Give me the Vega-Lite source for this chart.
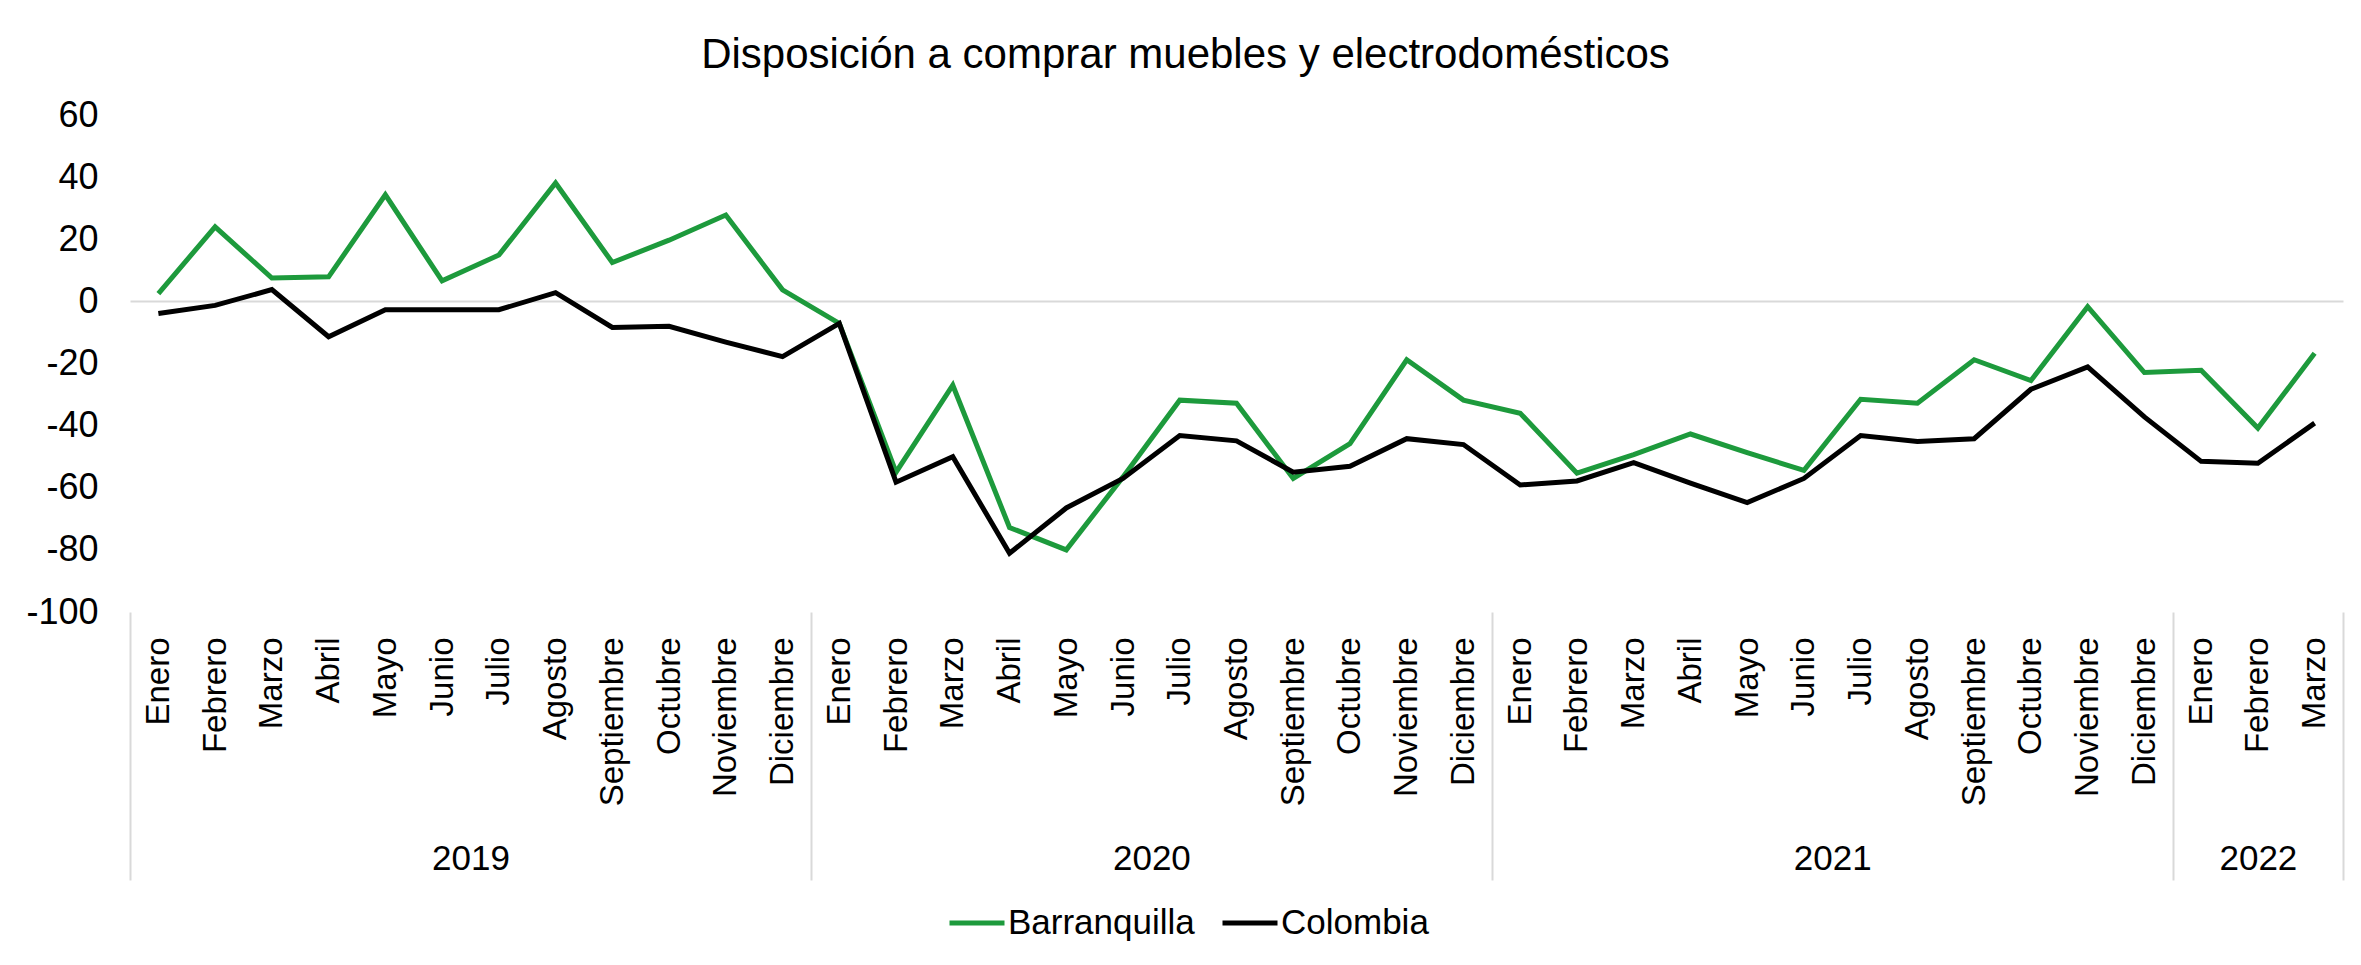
{
  "$schema": "https://vega.github.io/schema/vega-lite/v6.json",
  "width": 2213,
  "height": 497,
  "autosize": {"type": "none"},
  "padding": {"left": 130, "top": 115, "right": 18, "bottom": 353},
  "background": "white",
  "config": {
    "view": {"stroke": null},
    "font": "Liberation Sans",
    "axis": {"labelColor": "#000000", "labelFont": "Liberation Sans"},
    "legend": {"labelColor": "#000000", "labelFont": "Liberation Sans"}
  },
  "title": {
    "text": "Disposición a comprar muebles y electrodomésticos",
    "font": "Liberation Sans",
    "fontSize": 42,
    "fontWeight": "normal",
    "color": "#000000",
    "anchor": "middle",
    "frame": "group",
    "dx": -51,
    "offset": 20
  },
  "data": {
    "values": [
      {"n": 0, "anio": 2019, "mes": "Enero", "serie": "Barranquilla", "valor": 2.5},
      {"n": 1, "anio": 2019, "mes": "Febrero", "serie": "Barranquilla", "valor": 24.0},
      {"n": 2, "anio": 2019, "mes": "Marzo", "serie": "Barranquilla", "valor": 7.5},
      {"n": 3, "anio": 2019, "mes": "Abril", "serie": "Barranquilla", "valor": 7.9},
      {"n": 4, "anio": 2019, "mes": "Mayo", "serie": "Barranquilla", "valor": 34.3},
      {"n": 5, "anio": 2019, "mes": "Junio", "serie": "Barranquilla", "valor": 6.6},
      {"n": 6, "anio": 2019, "mes": "Julio", "serie": "Barranquilla", "valor": 14.9},
      {"n": 7, "anio": 2019, "mes": "Agosto", "serie": "Barranquilla", "valor": 38.1},
      {"n": 8, "anio": 2019, "mes": "Septiembre", "serie": "Barranquilla", "valor": 12.5},
      {"n": 9, "anio": 2019, "mes": "Octubre", "serie": "Barranquilla", "valor": 19.7},
      {"n": 10, "anio": 2019, "mes": "Noviembre", "serie": "Barranquilla", "valor": 27.8},
      {"n": 11, "anio": 2019, "mes": "Diciembre", "serie": "Barranquilla", "valor": 3.7},
      {"n": 12, "anio": 2020, "mes": "Enero", "serie": "Barranquilla", "valor": -7.1},
      {"n": 13, "anio": 2020, "mes": "Febrero", "serie": "Barranquilla", "valor": -55.0},
      {"n": 14, "anio": 2020, "mes": "Marzo", "serie": "Barranquilla", "valor": -27.0},
      {"n": 15, "anio": 2020, "mes": "Abril", "serie": "Barranquilla", "valor": -72.8},
      {"n": 16, "anio": 2020, "mes": "Mayo", "serie": "Barranquilla", "valor": -80.0},
      {"n": 17, "anio": 2020, "mes": "Junio", "serie": "Barranquilla", "valor": -56.5},
      {"n": 18, "anio": 2020, "mes": "Julio", "serie": "Barranquilla", "valor": -31.8},
      {"n": 19, "anio": 2020, "mes": "Agosto", "serie": "Barranquilla", "valor": -32.8},
      {"n": 20, "anio": 2020, "mes": "Septiembre", "serie": "Barranquilla", "valor": -57.0},
      {"n": 21, "anio": 2020, "mes": "Octubre", "serie": "Barranquilla", "valor": -45.8},
      {"n": 22, "anio": 2020, "mes": "Noviembre", "serie": "Barranquilla", "valor": -18.8},
      {"n": 23, "anio": 2020, "mes": "Diciembre", "serie": "Barranquilla", "valor": -31.8},
      {"n": 24, "anio": 2021, "mes": "Enero", "serie": "Barranquilla", "valor": -36.0},
      {"n": 25, "anio": 2021, "mes": "Febrero", "serie": "Barranquilla", "valor": -55.3},
      {"n": 26, "anio": 2021, "mes": "Marzo", "serie": "Barranquilla", "valor": -49.3},
      {"n": 27, "anio": 2021, "mes": "Abril", "serie": "Barranquilla", "valor": -42.7},
      {"n": 28, "anio": 2021, "mes": "Mayo", "serie": "Barranquilla", "valor": -48.7},
      {"n": 29, "anio": 2021, "mes": "Junio", "serie": "Barranquilla", "valor": -54.4},
      {"n": 30, "anio": 2021, "mes": "Julio", "serie": "Barranquilla", "valor": -31.5},
      {"n": 31, "anio": 2021, "mes": "Agosto", "serie": "Barranquilla", "valor": -32.8},
      {"n": 32, "anio": 2021, "mes": "Septiembre", "serie": "Barranquilla", "valor": -18.8},
      {"n": 33, "anio": 2021, "mes": "Octubre", "serie": "Barranquilla", "valor": -25.5},
      {"n": 34, "anio": 2021, "mes": "Noviembre", "serie": "Barranquilla", "valor": -1.7},
      {"n": 35, "anio": 2021, "mes": "Diciembre", "serie": "Barranquilla", "valor": -22.9},
      {"n": 36, "anio": 2022, "mes": "Enero", "serie": "Barranquilla", "valor": -22.2},
      {"n": 37, "anio": 2022, "mes": "Febrero", "serie": "Barranquilla", "valor": -40.8},
      {"n": 38, "anio": 2022, "mes": "Marzo", "serie": "Barranquilla", "valor": -16.7},
      {"n": 0, "anio": 2019, "mes": "Enero", "serie": "Colombia", "valor": -3.9},
      {"n": 1, "anio": 2019, "mes": "Febrero", "serie": "Colombia", "valor": -1.3},
      {"n": 2, "anio": 2019, "mes": "Marzo", "serie": "Colombia", "valor": 3.8},
      {"n": 3, "anio": 2019, "mes": "Abril", "serie": "Colombia", "valor": -11.4},
      {"n": 4, "anio": 2019, "mes": "Mayo", "serie": "Colombia", "valor": -2.7},
      {"n": 5, "anio": 2019, "mes": "Junio", "serie": "Colombia", "valor": -2.7},
      {"n": 6, "anio": 2019, "mes": "Julio", "serie": "Colombia", "valor": -2.7},
      {"n": 7, "anio": 2019, "mes": "Agosto", "serie": "Colombia", "valor": 2.8},
      {"n": 8, "anio": 2019, "mes": "Septiembre", "serie": "Colombia", "valor": -8.4},
      {"n": 9, "anio": 2019, "mes": "Octubre", "serie": "Colombia", "valor": -8.0},
      {"n": 10, "anio": 2019, "mes": "Noviembre", "serie": "Colombia", "valor": -13.1},
      {"n": 11, "anio": 2019, "mes": "Diciembre", "serie": "Colombia", "valor": -17.8},
      {"n": 12, "anio": 2020, "mes": "Enero", "serie": "Colombia", "valor": -7.1},
      {"n": 13, "anio": 2020, "mes": "Febrero", "serie": "Colombia", "valor": -58.2},
      {"n": 14, "anio": 2020, "mes": "Marzo", "serie": "Colombia", "valor": -50.0},
      {"n": 15, "anio": 2020, "mes": "Abril", "serie": "Colombia", "valor": -81.1},
      {"n": 16, "anio": 2020, "mes": "Mayo", "serie": "Colombia", "valor": -66.5},
      {"n": 17, "anio": 2020, "mes": "Junio", "serie": "Colombia", "valor": -57.0},
      {"n": 18, "anio": 2020, "mes": "Julio", "serie": "Colombia", "valor": -43.2},
      {"n": 19, "anio": 2020, "mes": "Agosto", "serie": "Colombia", "valor": -44.9},
      {"n": 20, "anio": 2020, "mes": "Septiembre", "serie": "Colombia", "valor": -55.0},
      {"n": 21, "anio": 2020, "mes": "Octubre", "serie": "Colombia", "valor": -53.1},
      {"n": 22, "anio": 2020, "mes": "Noviembre", "serie": "Colombia", "valor": -44.2},
      {"n": 23, "anio": 2020, "mes": "Diciembre", "serie": "Colombia", "valor": -46.1},
      {"n": 24, "anio": 2021, "mes": "Enero", "serie": "Colombia", "valor": -59.1},
      {"n": 25, "anio": 2021, "mes": "Febrero", "serie": "Colombia", "valor": -57.8},
      {"n": 26, "anio": 2021, "mes": "Marzo", "serie": "Colombia", "valor": -51.9},
      {"n": 27, "anio": 2021, "mes": "Abril", "serie": "Colombia", "valor": -58.5},
      {"n": 28, "anio": 2021, "mes": "Mayo", "serie": "Colombia", "valor": -64.8},
      {"n": 29, "anio": 2021, "mes": "Junio", "serie": "Colombia", "valor": -57.0},
      {"n": 30, "anio": 2021, "mes": "Julio", "serie": "Colombia", "valor": -43.2},
      {"n": 31, "anio": 2021, "mes": "Agosto", "serie": "Colombia", "valor": -45.1},
      {"n": 32, "anio": 2021, "mes": "Septiembre", "serie": "Colombia", "valor": -44.2},
      {"n": 33, "anio": 2021, "mes": "Octubre", "serie": "Colombia", "valor": -28.3},
      {"n": 34, "anio": 2021, "mes": "Noviembre", "serie": "Colombia", "valor": -21.1},
      {"n": 35, "anio": 2021, "mes": "Diciembre", "serie": "Colombia", "valor": -37.2},
      {"n": 36, "anio": 2022, "mes": "Enero", "serie": "Colombia", "valor": -51.5},
      {"n": 37, "anio": 2022, "mes": "Febrero", "serie": "Colombia", "valor": -52.1},
      {"n": 38, "anio": 2022, "mes": "Marzo", "serie": "Colombia", "valor": -39.2}
    ]
  },
  "encoding": {
    "y": {
      "field": "valor",
      "type": "quantitative",
      "scale": {"domain": [-100, 60], "nice": false, "zero": false},
      "axis": {
        "title": null,
        "values": [-100, -80, -60, -40, -20, 0, 20, 40, 60],
        "labelExpr": "'' + datum.value",
        "domain": false,
        "ticks": false,
        "labelFontSize": 36,
        "labelPadding": 32,
        "labelBaseline": "middle",
        "grid": true,
        "gridColor": "#d9d9d9",
        "gridWidth": 2,
        "gridOpacity": {"condition": {"test": "datum.value === 0", "value": 1}, "value": 0}
      }
    },
    "color": {
      "field": "serie",
      "type": "nominal",
      "scale": {"domain": ["Barranquilla", "Colombia"], "range": ["#1d9a3c", "#000000"]},
      "legend": {
        "title": null,
        "orient": "none",
        "direction": "horizontal",
        "legendX": 817,
        "legendY": 778,
        "padding": 0,
        "symbolType": "stroke",
        "symbolSize": 3025,
        "symbolStrokeWidth": 5,
        "labelFontSize": 35,
        "labelLimit": 0,
        "labelOffset": 1,
        "columnPadding": 17
      }
    }
  },
  "layer": [
    {
      "transform": [{"filter": "datum.serie == 'Barranquilla'"}],
      "mark": {"type": "line", "strokeWidth": 5},
      "encoding": {
        "x": {
          "field": "n",
          "type": "quantitative",
          "scale": {"domain": [-0.5, 38.5], "nice": false, "zero": false},
          "axis": {
            "orient": "bottom",
            "title": null,
            "values": [0,1,2,3,4,5,6,7,8,9,10,11,12,13,14,15,16,17,18,19,20,21,22,23,24,25,26,27,28,29,30,31,32,33,34,35,36,37,38],
            "labelExpr": "['Enero','Febrero','Marzo','Abril','Mayo','Junio','Julio','Agosto','Septiembre','Octubre','Noviembre','Diciembre'][datum.value % 12]",
            "labelAngle": -90,
            "labelAlign": "right",
            "labelBaseline": "middle",
            "labelFontSize": 33,
            "labelPadding": 25,
            "labelOverlap": false,
            "labelFlush": false,
            "labelBound": false,
            "ticks": false,
            "domain": false,
            "grid": false
          }
        }
      }
    },
    {
      "transform": [{"filter": "datum.serie == 'Colombia'"}],
      "mark": {"type": "line", "strokeWidth": 5},
      "encoding": {
        "x": {
          "field": "n",
          "type": "quantitative",
          "scale": {"domain": [-0.5, 38.5], "nice": false, "zero": false},
          "axis": {
            "orient": "bottom",
            "title": null,
            "values": [-0.5, 5.5, 11.5, 17.5, 23.5, 29.5, 35.5, 37, 38.5],
            "labelExpr": "datum.value == 5.5 ? '2019' : datum.value == 17.5 ? '2020' : datum.value == 29.5 ? '2021' : datum.value == 37 ? '2022' : ''",
            "labelAngle": 0,
            "labelAlign": "center",
            "labelBaseline": "top",
            "labelFontSize": 35,
            "labelPadding": -39,
            "labelOverlap": false,
            "labelFlush": false,
            "labelBound": false,
            "ticks": true,
            "tickSize": 268,
            "tickWidth": 2,
            "tickColor": "#d9d9d9",
            "tickOpacity": {"condition": {"test": "indexof([-0.5, 11.5, 23.5, 35.5, 38.5], datum.value) >= 0", "value": 1}, "value": 0},
            "domain": false,
            "grid": false
          }
        }
      }
    }
  ],
  "resolve": {"axis": {"x": "independent"}}
}
